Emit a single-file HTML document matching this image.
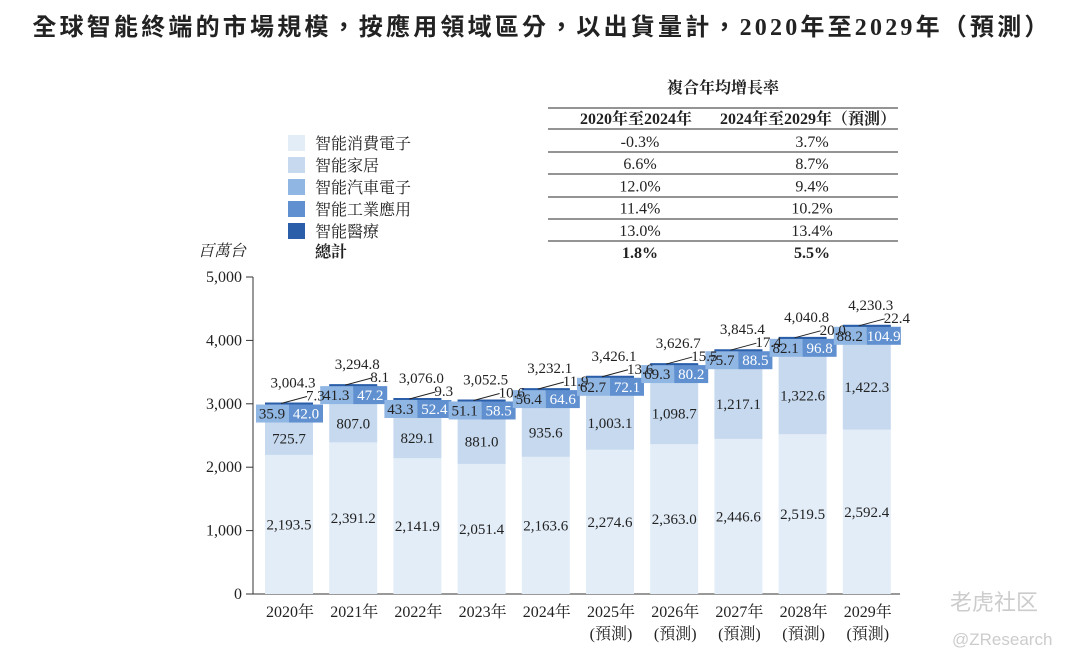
<!DOCTYPE html>
<html><head><meta charset="utf-8"><style>
body{margin:0;background:#fff;width:1080px;height:665px;overflow:hidden}
svg text{font-family:"Liberation Serif","Noto Serif CJK SC","Noto Sans CJK TC",serif;fill:#222}
</style></head><body>
<svg id="c" width="1080" height="665">
<text x="542" y="35" text-anchor="middle" font-size="24" font-weight="bold" style="font-family:'Liberation Serif','Noto Sans CJK TC',sans-serif;letter-spacing:3.2px">全球智能終端的市場規模，按應用領域區分，以出貨量計，2020年至2029年（預測）</text>
<g id="tbl"></g>
<g id="leg"></g>
<g id="plot"></g>
</svg>
<script>
const years=["2020年","2021年","2022年","2023年","2024年","2025年","2026年","2027年","2028年","2029年"];
const forecast=[false,false,false,false,false,true,true,true,true,true];
const consumer=[2193.5,2391.2,2141.9,2051.4,2163.6,2274.6,2363.0,2446.6,2519.5,2592.4];
const home=[725.7,807.0,829.1,881.0,935.6,1003.1,1098.7,1217.1,1322.6,1422.3];
const auto=[35.9,41.3,43.3,51.1,56.4,62.7,69.3,75.7,82.1,88.2];
const industrial=[42.0,47.2,52.4,58.5,64.6,72.1,80.2,88.5,96.8,104.9];
const medical=[7.3,8.1,9.3,10.6,11.9,13.6,15.5,17.4,20.0,22.4];
const totals=[3004.3,3294.8,3076.0,3052.5,3232.1,3426.1,3626.7,3845.4,4040.8,4230.3];
const yTicks=[0,1000,2000,3000,4000,5000];
const legendNames=["智能消費電子","智能家居","智能汽車電子","智能工業應用","智能醫療"];
const cagrA=["-0.3%","6.6%","12.0%","11.4%","13.0%","1.8%"];
const cagrB=["3.7%","8.7%","9.4%","10.2%","13.4%","5.5%"];
const colors=["#e3edf8","#c6d9ef","#90b6e3","#6090d0","#2a5ea8"];
const NS="http://www.w3.org/2000/svg";
function el(p,t,a,txt){const e=document.createElementNS(NS,t);for(const k in a)e.setAttribute(k,a[k]);if(txt!=null)e.textContent=txt;p.appendChild(e);return e;}
const fmt=v=>v.toLocaleString('en-US',{minimumFractionDigits:1,maximumFractionDigits:1});
const y0=594,ppu=(594-277)/5000;
const Y=v=>y0-v*ppu;
const X=i=>289+i*64.2;
const bw=48;
const plot=document.getElementById('plot');
let a=el(plot,'line',{x1:253,y1:277,x2:253,y2:594,stroke:'#333','stroke-width':1});

a=el(plot,'line',{x1:253,y1:594,x2:900,y2:594,stroke:'#333','stroke-width':1});

let t=el(plot,'text',{x:222,y:256,'font-size':16,'text-anchor':'middle','font-style':'italic'},'百萬台');

yTicks.forEach(v=>{
  el(plot,'line',{x1:246,y1:Y(v),x2:253,y2:Y(v),stroke:'#333'});
  const tt=el(plot,'text',{x:242,y:Y(v)+5,'font-size':16,'text-anchor':'end'},v.toLocaleString('en-US'));
  
});
years.forEach((yr,i)=>{
  const cx=X(i),x=cx-bw/2;
  const series=[consumer,home,auto,industrial,medical];
  let base=0;
  series.forEach((s,k)=>{
    const r=el(plot,'rect',{x:x,y:Y(base+s[i]),width:bw,height:Y(base)-Y(base+s[i]),fill:colors[k]});
    
    base+=s[i];
  });
  const top=Y(totals[i]);
  const bt=top+1,bh=18;
  el(plot,'rect',{x:cx-33,y:bt,width:33,height:bh,fill:colors[2]});
  el(plot,'rect',{x:cx,y:bt,width:34,height:bh,fill:colors[3]});
  el(plot,'line',{x1:x,y1:top,x2:x+bw,y2:top,stroke:colors[4],'stroke-width':2});
});
years.forEach((yr,i)=>{
  const cx=X(i),x=cx-bw/2;
  const top=Y(totals[i]);
  const bt=top+1,bh=18;
  let l=el(plot,'text',{x:cx-17,y:bt+14,'font-size':15,'text-anchor':'middle'},fmt(auto[i]));
  
  l=el(plot,'text',{x:cx+17,y:bt+14,'font-size':15,'text-anchor':'middle',style:'fill:#fff'},fmt(industrial[i]));
  
  const hb=Y(consumer[i]);
  l=el(plot,'text',{x:cx,y:(bt+bh+hb)/2+5,'font-size':15,'text-anchor':'middle'},fmt(home[i]));
  
  l=el(plot,'text',{x:cx,y:(hb+y0)/2+5,'font-size':15,'text-anchor':'middle'},fmt(consumer[i]));
  
  el(plot,'line',{x1:cx-8,y1:top,x2:cx+18,y2:top-7,stroke:'#222','stroke-width':1});
  l=el(plot,'text',{x:cx+17,y:top-3,'font-size':15},fmt(medical[i]));
  
  l=el(plot,'text',{x:cx+4,y:top-16,'font-size':15,'text-anchor':'middle'},fmt(totals[i]));
  
  l=el(plot,'text',{x:cx+1,y:617,'font-size':16,'text-anchor':'middle'},yr);
  
  if(forecast[i]){l=el(plot,'text',{x:cx+1,y:639,'font-size':16,'text-anchor':'middle'},'(預測)');
  }
});
const leg=document.getElementById('leg');
legendNames.forEach((n,k)=>{
  const yy=135+k*22;
  const r=el(leg,'rect',{x:288,y:yy,width:17,height:16,fill:colors[k]});
  
  const tt=el(leg,'text',{x:315,y:yy+14,'font-size':16},n);
  
});
t=el(leg,'text',{x:315,y:257,'font-size':16,'font-weight':'bold'},'總計');

const tb=document.getElementById('tbl');
t=el(tb,'text',{x:723,y:93,'font-size':16,'font-weight':'bold','text-anchor':'middle'},'複合年均增長率');

[108,129,152,174,197,219,241].forEach(yy=>el(tb,'line',{x1:548,y1:yy,x2:898,y2:yy,stroke:'#555','stroke-width':1.3}));
t=el(tb,'text',{x:636,y:124,'font-size':16,'font-weight':'bold','text-anchor':'middle'},'2020年至2024年');

t=el(tb,'text',{x:808,y:124,'font-size':16,'font-weight':'bold','text-anchor':'middle'},'2024年至2029年（預測）');

cagrA.forEach((v,k)=>{
  const yy=147+k*22.2,b=k===5?'bold':'normal';
  let c=el(tb,'text',{x:640,y:yy,'font-size':16,'text-anchor':'middle','font-weight':b},v);
  
  c=el(tb,'text',{x:812,y:yy,'font-size':16,'text-anchor':'middle','font-weight':b},cagrB[k]);
  
});
t=el(document.getElementById('c'),'text',{x:950,y:610,'font-size':22,style:'fill:#ccc;font-family:"Noto Sans CJK SC",sans-serif'},'老虎社区');

t=el(document.getElementById('c'),'text',{x:952,y:645,'font-size':17,style:'fill:#ccc;font-family:"Liberation Sans",sans-serif'},'@ZResearch');

</script>
</body></html>
